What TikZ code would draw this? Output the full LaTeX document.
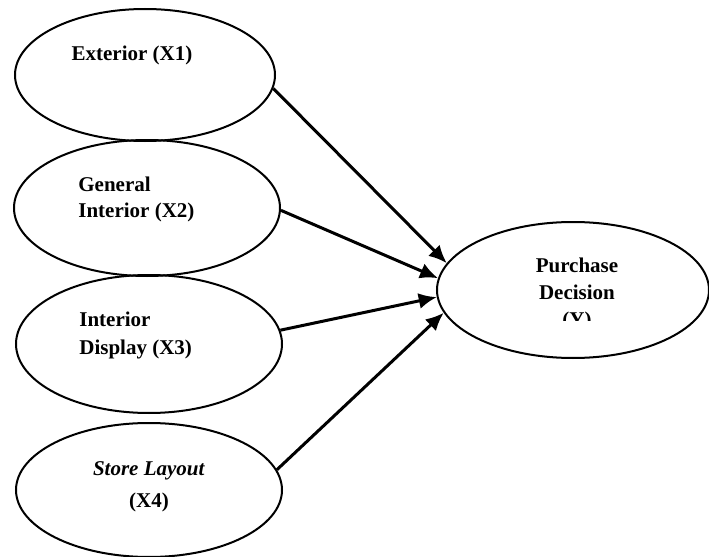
\documentclass[tikz,border=0pt]{standalone}
\usepackage{fontspec}
\setmainfont{Liberation Serif}
\usetikzlibrary{shapes.geometric,arrows.meta}
\begin{document}
\begin{tikzpicture}[x=0.5pt,y=-0.5pt,
	construct/.style={draw,ellipse,line width=1pt,inner sep=0pt},
	lbl/.style={font=\fontsize{10.5}{13}\selectfont\bfseries,inner sep=0pt},
	effect/.style={-{Latex[length=9pt,width=8pt]},line width=1.5pt}]
	\useasboundingbox (0,0) rectangle (709,557);
	\node[construct,minimum width=130pt,minimum height=66pt] (ext) at (145,75) {};
	\node[construct,minimum width=133pt,minimum height=68pt] (gen) at (147,208) {};
	\node[construct,minimum width=133pt,minimum height=69pt] (disp) at (149,344) {};
	\node[construct,minimum width=133pt,minimum height=67pt] (lay) at (149,490) {};
	\node[construct,minimum width=136pt,minimum height=68pt] (pd) at (573,290) {};
	\node[lbl,anchor=base] (extlbl) at (132,61) {Exterior (X1)};
	\node[lbl,align=left,anchor=north west] (genlbl) at (78,177) {General\\Interior (X2)};
	\node[lbl,align=left,anchor=north west,font=\fontsize{10.5}{14}\selectfont\bfseries] (displbl) at (79,312) {Interior\\Display (X3)};
	\node[lbl,align=center,anchor=north,font=\fontsize{10.5}{16}\selectfont\bfseries] (laylbl) at (149,461) {\textit{Store Layout}\\(X4)};
	\begin{scope}
		\clip (440,230) rectangle (709,320);
		\node[lbl,align=center,anchor=north,font=\fontsize{10.5}{13.5}\selectfont\bfseries] (pdlbl) at (577,258) {Purchase\\Decision\\(Y)};
	\end{scope}
	\draw[effect] (ext.-6) -- (pd.168);
	\draw[effect] (gen.-1) -- (pd.175);
	\draw[effect] (disp.6) -- (pd.-177);
	\draw[effect] (lay.9) -- (pd.-170);
\end{tikzpicture}
\end{document}
